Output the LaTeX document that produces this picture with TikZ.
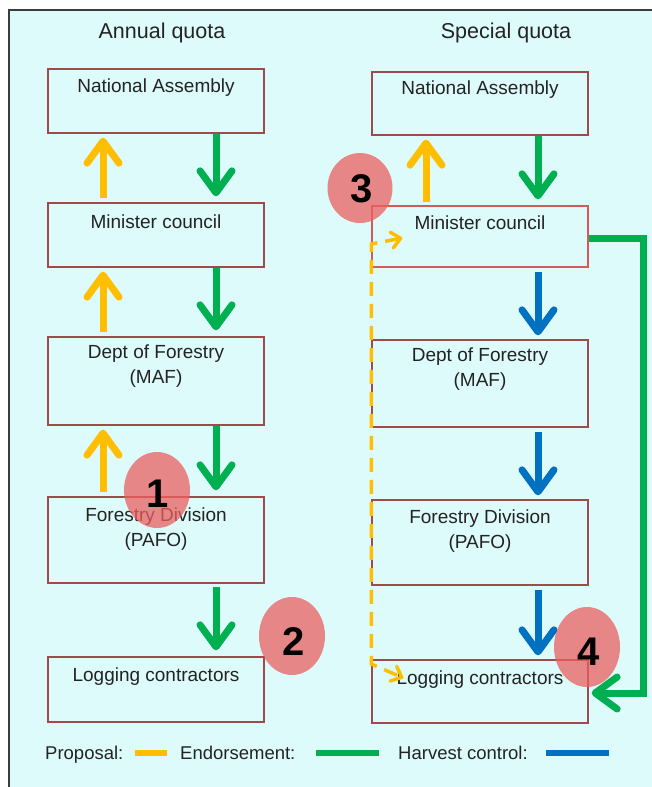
\documentclass[tikz,border=0pt]{standalone}
\usepackage{fontspec}
\setmainfont{Liberation Sans}
\usetikzlibrary{arrows.meta,calc,shapes.geometric}
\definecolor{bgc}{RGB}{222,251,251}
\definecolor{framec}{RGB}{60,60,60}
\definecolor{boxc}{RGB}{160,75,75}
\definecolor{boxc2}{RGB}{215,90,90}
\definecolor{yel}{RGB}{255,190,0}
\definecolor{grn}{RGB}{0,176,80}
\definecolor{blu}{RGB}{0,112,192}
\definecolor{badgec}{RGB}{235,95,95}
\definecolor{txt}{RGB}{35,35,35}
\tikzset{
  stagebox/.style={draw=boxc, line width=1.3pt, rectangle, inner sep=0pt, minimum width=216pt},
  boxtext/.style={text=txt, font=\fontsize{19}{25}\selectfont, align=center, inner sep=0pt},
  legtext/.style={text=txt, font=\fontsize{18.5}{22}\selectfont, inner sep=0pt, anchor=base west},
  headtext/.style={text=txt, font=\fontsize{21.5}{26}\selectfont, inner sep=0pt},
  bigarrow/.style={line width=7pt, -{Straight Barb[length=22pt,width=32pt,round]}},
  propo/.style={bigarrow, draw=yel, shorten >=4pt},
  endo/.style={bigarrow, draw=grn, shorten >=6pt},
  harv/.style={bigarrow, draw=blu, shorten >=4pt, shorten <=4pt},
  propdash/.style={draw=yel, line width=3.5pt, dash pattern=on 14pt off 8pt,
     {Straight Barb[length=9pt,width=16pt,round]}-{Straight Barb[length=9pt,width=16pt,round]}},
  badge/.style={ellipse, fill=badgec, fill opacity=0.75, text opacity=1, inner sep=0pt,
     minimum width=66pt, minimum height=76pt},
  badgenum/.style={font=\fontsize{40}{40}\selectfont\bfseries, inner sep=0pt, text=black},
  legline/.style={line width=6pt}
}
\begin{document}
\begin{tikzpicture}[x=1pt,y=-1pt]
\useasboundingbox (0,0) rectangle (652,787);
\fill[white] (0,0) rectangle (652,787);
\fill[bgc] (9,10) rectangle (652,787);
\draw[framec, line width=2pt] (9,787) -- (9,10) -- (652,10);

% headings
\node[headtext] (hA) at (162,33) {Annual quota};
\node[headtext] (hS) at (506,33) {Special quota};

% left column boxes
\node[stagebox, minimum height=64pt] (naL) at (156,101) {};
\node[stagebox, minimum height=64pt] (mcL) at (156,235) {};
\node[stagebox, minimum height=88pt] (dfL) at (156,381) {};
\node[stagebox, minimum height=86pt] (fdL) at (156,540) {};
\node[stagebox, minimum height=65pt] (lcL) at (156,689.5) {};
\node[boxtext] (naLt) at (156,88) {National Assembly};
\node[boxtext] (mcLt) at (156,222) {Minister council};
\node[boxtext] (dfLt) at (156,366) {Dept of Forestry\\(MAF)};
\node[boxtext] (fdLt) at (156,529) {Forestry Division\\(PAFO)};
\node[boxtext] (lcLt) at (156,677) {Logging contractors};

% right column boxes
\node[stagebox, minimum height=63pt] (naR) at (480,103.5) {};
\node[stagebox, draw=boxc2, minimum height=61pt] (mcR) at (480,236.5) {};
\node[stagebox, minimum height=87pt] (dfR) at (480,383.5) {};
\node[stagebox, minimum height=85pt] (fdR) at (480,542.5) {};
\node[stagebox, minimum height=63pt] (lcR) at (480,691.5) {};
\node[boxtext] (naRt) at (480,90) {National Assembly};
\node[boxtext] (mcRt) at (480,223) {Minister council};
\node[boxtext] (dfRt) at (480,369.5) {Dept of Forestry\\(MAF)};
\node[boxtext] (fdRt) at (480,531) {Forestry Division\\(PAFO)};
\node[boxtext] (lcRt) at (480,680) {Logging contractors};

% arrow columns
\coordinate (yL) at (103,0);
\coordinate (gL) at (216,0);
\coordinate (yR) at (426,0);
\coordinate (gR) at (538,0);
\coordinate (gx) at (643,0);

% left column arrows
\draw[propo, shorten <=4pt] (mcL.north -| yL) -- (naL.south -| yL);
\draw[propo, shorten <=4pt] (dfL.north -| yL) -- (mcL.south -| yL);
\draw[propo, shorten <=4pt] (fdL.north -| yL) -- (dfL.south -| yL);
\draw[endo] (naL.south -| gL) -- (mcL.north -| gL);
\draw[endo] (mcL.south -| gL) -- (dfL.north -| gL);
\draw[endo] (dfL.south -| gL) -- (fdL.north -| gL);
\draw[endo, shorten <=3pt] (fdL.south -| gL) -- (lcL.north -| gL);

% right column arrows
\draw[propo, shorten <=3pt] (mcR.north -| yR) -- (naR.south -| yR);
\draw[endo] (naR.south -| gR) -- (mcR.north -| gR);
\draw[harv] (mcR.south -| gR) -- (dfR.north -| gR);
\draw[harv] (dfR.south -| gR) -- (fdR.north -| gR);
\draw[harv] (fdR.south -| gR) -- (lcR.north -| gR);
\draw[line width=7pt, draw=grn, -{Straight Barb[length=22pt,width=32pt,round]}, shorten >=3pt]
  ($(mcR.east)+(0,1.5)$) -- ($(mcR.east -| gx)+(0,1.5)$) -- ($(lcR.east -| gx)+(0,1.5)$) -- ($(lcR.east)+(0,1.5)$);
\draw[propdash] ($(mcR.west)+(31,1.5)$) -- ($(mcR.west)+(0,7.5)$) -- ($(lcR.west)+(0,-27.5)$) -- ($(lcR.west)+(32,-13.5)$);

% legend
\node[legtext] (lP) at (45,759.5) {Proposal:};
\node[legtext] (lE) at (180,759.5) {Endorsement:};
\node[legtext] (lH) at (398,759.5) {Harvest control:};
\draw[legline, yel] ($(lP.base east)+(11,-6.5)$) -- ++(32,0);
\draw[legline, grn] ($(lE.base east)+(20,-6.5)$) -- ++(63,0);
\draw[legline, blu] ($(lH.base east)+(18,-6.5)$) -- ++(63,0);

% badges
\node[badge] (b1) at (157,490) {};
\node[badge, minimum height=78pt] (b2) at (292,636) {};
\node[badge, minimum height=70pt, minimum width=65pt] (b3) at (360,188) {};
\node[badge, minimum height=80pt] (b4) at (587,647) {};
\node[badgenum] (n1) at (158,494) {1};
\node[badgenum] (n2) at (294,642) {2};
\node[badgenum] (n3) at (362,189) {3};
\node[badgenum] (n4) at (589,652) {4};
\end{tikzpicture}
\end{document}
